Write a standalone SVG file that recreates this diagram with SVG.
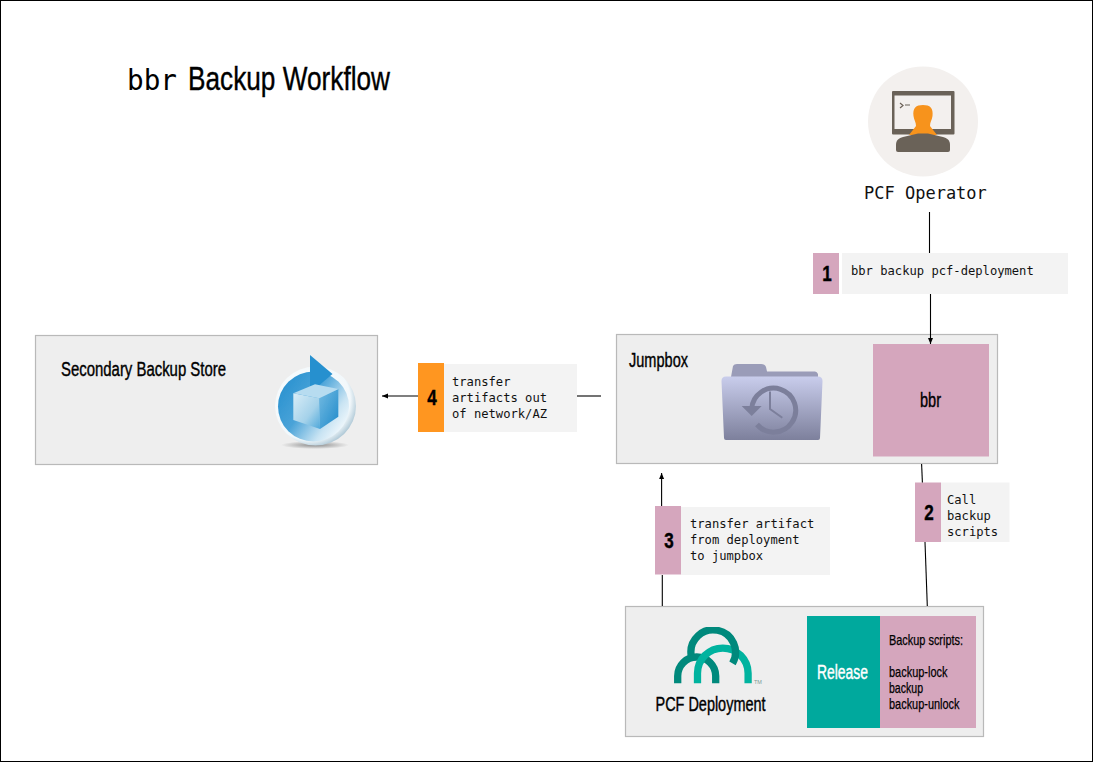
<svg xmlns="http://www.w3.org/2000/svg" width="1093" height="762" viewBox="0 0 1093 762">
<style>
.box{fill:#eeeeee;stroke:#b9b9b9;stroke-width:1.2}
.lab{fill:#f3f3f3}
.pink{fill:#d5a6bd}
.c{font-family:"Liberation Sans",Arial,sans-serif;fill:#000;stroke:#000;stroke-width:.4}
.n{font-family:"Liberation Sans",Arial,sans-serif;font-weight:700;font-size:22.500px;text-anchor:middle;fill:#000;stroke:#000;stroke-width:.4}
.m{font-family:"DejaVu Sans Mono","Liberation Mono",monospace;font-size:12.15px;fill:#111}
.ln{stroke:#000;stroke-width:1.1;fill:none}
.soft{filter:url(#soft)}
</style>
<defs>
<filter id="soft" x="-5%" y="-5%" width="110%" height="110%"><feGaussianBlur stdDeviation=".45"/></filter>
<marker id="ah" markerUnits="userSpaceOnUse" markerWidth="7" markerHeight="6" refX="6" refY="2.500" orient="auto"><path d="M0 0L6 2.500L0 5z" fill="#000"/></marker>
<linearGradient id="fold" x1="0" y1="0" x2="0" y2="1"><stop offset="0" stop-color="#c9cdec"/><stop offset="1" stop-color="#7d809c"/></linearGradient>
<linearGradient id="cubeL" x1="0" y1="0" x2="1" y2="1"><stop offset="0" stop-color="#d9edf7"/><stop offset=".6" stop-color="#a5d2ea"/><stop offset="1" stop-color="#4fa8da"/></linearGradient>
<linearGradient id="cubeR" x1="0" y1="0" x2="1" y2="1"><stop offset="0" stop-color="#74bbe2"/><stop offset="1" stop-color="#1f8aca"/></linearGradient>
<linearGradient id="disc" x1="0" y1=".15" x2="1" y2=".85"><stop offset="0" stop-color="#2690cf"/><stop offset=".42" stop-color="#4aa3d8"/><stop offset=".75" stop-color="#c9e4f3"/><stop offset="1" stop-color="#ffffff"/></linearGradient>
<radialGradient id="rim" cx=".42" cy=".42" r=".62"><stop offset="0" stop-color="#ffffff"/><stop offset=".82" stop-color="#f2f8fb"/><stop offset="1" stop-color="#a9c4d3"/></radialGradient>
<radialGradient id="shadow"><stop offset="0" stop-color="#8a8a8a"/><stop offset="1" stop-color="#eeeeee"/></radialGradient>
</defs>
<rect x=".5" y=".5" width="1092" height="761" fill="#fff" stroke="#000"/>
<g id="title">
<text x="127" y="90" font-family="'DejaVu Sans Mono',monospace" font-size="28" textLength="50" lengthAdjust="spacingAndGlyphs">bbr</text>
<text x="188" y="90" class="c" font-size="34" textLength="202" lengthAdjust="spacingAndGlyphs">Backup Workflow</text>
</g>
<g id="operator">
<circle cx="923" cy="121.500" r="55" fill="#f3f0ee"/>
<g class="soft">
<rect x="892" y="91" width="62.500" height="43.500" rx="1" fill="#6b6258"/>
<rect x="894.500" y="95.500" width="56.500" height="33.500" fill="#f3f0ee"/>
<path d="M900 103L903 105.500L900 108M905 105H910" fill="none" stroke="#6b6258" stroke-width="1.200"/>
<path d="M916 126C916 122 914 120 913.500 116C912.500 108 916 105 923 105C930 105 933.500 108 932.500 116C932 120 930 122 930 126L937 135H909z" fill="#f7931e"/>
<path d="M896 150V145C896 140 899 138 903 137L918 133.500H928L943 137C947 138 950 140 950 145V150Q950 152 948 152H898Q896 152 896 150z" fill="#6b6258"/>
</g>
<text x="864" y="198.500" font-family="'DejaVu Sans Mono',monospace" font-size="17" fill="#111">PCF Operator</text>
</g>
<g id="label1">
<rect class="pink" x="813" y="253" width="26" height="41"/>
<rect class="lab" x="842" y="253" width="226" height="41"/>
<text class="n" x="827" y="281" textLength="9.500" lengthAdjust="spacingAndGlyphs">1</text>
<text class="m" x="851" y="275">bbr backup pcf-deployment</text>
</g>
<g id="jumpbox">
<rect class="box" x="616.500" y="334.500" width="381" height="129"/>
<text x="629" y="367" class="c" font-size="20" textLength="59" lengthAdjust="spacingAndGlyphs">Jumpbox</text>
<g id="folder-icon" class="soft">
<path d="M731 377L733 366Q734 364 737 364H761Q765 364 766 367L767 371.500H815Q817 371.500 818 374V378z" fill="#9a9cb8"/>
<path d="M721.500 381Q721.500 376.500 726 376.500H818Q822.500 376.500 822.500 381L820 438Q820 440 818 440H726Q724 440 724 438z" fill="url(#fold)"/>
<path d="M751.700 409A22 22 0 1 1 757 424.500" fill="none" stroke="#7c7f9b" stroke-width="5"/>
<path d="M741.700 406H761.700L751.700 416z" fill="#7c7f9b"/>
<path d="M770 391.500V409L782.300 417.700" fill="none" stroke="#7c7f9b" stroke-width="2"/>
</g>
<rect class="pink" x="873" y="344" width="116" height="112.500"/>
<text x="920" y="407" class="c" font-size="20" textLength="21" lengthAdjust="spacingAndGlyphs">bbr</text>
</g>
<g id="secondary-store">
<rect class="box" x="35.500" y="335.500" width="342" height="129"/>
<text x="61" y="376" class="c" font-size="20" textLength="165" lengthAdjust="spacingAndGlyphs">Secondary Backup Store</text>
<g id="store-icon" class="soft">
<ellipse cx="315" cy="445" rx="34" ry="4" fill="url(#shadow)"/>
<ellipse cx="315.500" cy="406" rx="40.500" ry="39.500" fill="url(#rim)"/>
<ellipse cx="313.500" cy="406.500" rx="35.500" ry="35" fill="url(#disc)"/>
<path d="M310 355L332.500 374L310 393z" fill="#2690cf"/>
<path d="M293.300 393.300L319.300 398.300L320 429L293.300 420z" fill="url(#cubeL)"/>
<path d="M319.300 398.300L338.300 389V416.700L320 429z" fill="url(#cubeR)"/>
<path d="M293.300 393.300L315 384.300L338.300 389L319.300 398.300z" fill="#b7dcf0"/>
</g>
</g>
<g id="label4">
<rect x="418" y="363" width="26" height="69" fill="#ff9620"/>
<rect class="lab" x="444" y="364" width="133" height="68"/>
<text class="n" x="432" y="404.500" textLength="9.500" lengthAdjust="spacingAndGlyphs">4</text>
<text class="m" x="452" y="385.500">transfer</text>
<text class="m" x="452" y="401.500">artifacts out</text>
<text class="m" x="452" y="417.500">of network/AZ</text>
</g>
<g id="label3">
<rect class="pink" x="655" y="506" width="26" height="68.500"/>
<rect class="lab" x="681" y="507" width="149" height="68"/>
<text class="n" x="669" y="547.500" textLength="9.500" lengthAdjust="spacingAndGlyphs">3</text>
<text class="m" x="690" y="528.300">transfer artifact</text>
<text class="m" x="690" y="544.300">from deployment</text>
<text class="m" x="690" y="560.300">to jumpbox</text>
</g>
<g id="label2">
<rect class="pink" x="915" y="482.500" width="26" height="59.500"/>
<rect class="lab" x="941" y="482.500" width="68.500" height="59.500"/>
<text class="n" x="929" y="520" textLength="9.500" lengthAdjust="spacingAndGlyphs">2</text>
<text class="m" x="947" y="504">Call</text>
<text class="m" x="947" y="520">backup</text>
<text class="m" x="947" y="536">scripts</text>
</g>
<g id="deployment">
<rect class="box" x="625.500" y="606.500" width="358" height="130"/>
<g id="pcf-logo" fill="none" stroke-width="7.300" class="soft">
<path d="M677.700 683.300V676A19 19 0 0 1 715.700 676V683.300" stroke="#00897b"/>
<path d="M697.500 683.300V673.300A25.300 25.300 0 0 1 748.100 673.300V683.300" stroke="#00b39f"/>
<path d="M691.100 655A22.300 22.300 0 1 1 732.500 663.300" stroke="#00897b"/>
</g>
<text x="754" y="684" font-family="'Liberation Sans',sans-serif" font-size="5.500" fill="#7a9a95">TM</text>
<text x="655.500" y="710.700" class="c" font-size="20" textLength="110" lengthAdjust="spacingAndGlyphs">PCF Deployment</text>
<rect x="807" y="616" width="73" height="112" fill="#00a99d"/>
<rect class="pink" x="880" y="616" width="96" height="112"/>
<text x="817" y="678.500" class="c" style="fill:#fff;stroke:#fff" font-size="20" textLength="51" lengthAdjust="spacingAndGlyphs">Release</text>
<text x="889" y="645" class="c" style="stroke-width:.25" font-size="15" textLength="74" lengthAdjust="spacingAndGlyphs">Backup scripts:</text>
<text x="889" y="677" class="c" style="stroke-width:.25" font-size="15" textLength="58.500" lengthAdjust="spacingAndGlyphs">backup-lock</text>
<text x="889" y="693" class="c" style="stroke-width:.25" font-size="15" textLength="34" lengthAdjust="spacingAndGlyphs">backup</text>
<text x="889" y="709" class="c" style="stroke-width:.25" font-size="15" textLength="70.500" lengthAdjust="spacingAndGlyphs">backup-unlock</text>
</g>
<g id="connectors">
<path class="ln" d="M929.500 212V253"/>
<path class="ln" d="M930.500 294V344" marker-end="url(#ah)"/>
<path class="ln" d="M921.600 464L922.400 482.500"/>
<path class="ln" d="M925 542L927.300 606"/>
<path class="ln" d="M662.300 606V575"/>
<path class="ln" d="M661.600 506V473" marker-end="url(#ah)"/>
<path class="ln" d="M601 396H577"/>
<path class="ln" d="M418 396H382" marker-end="url(#ah)"/>
</g>
</svg>
